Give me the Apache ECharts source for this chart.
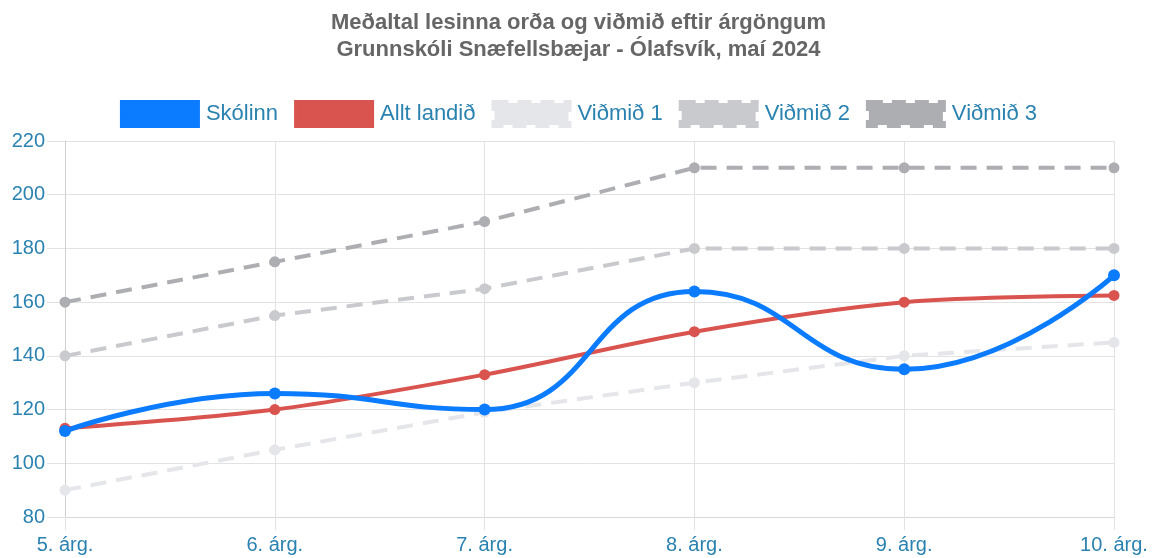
<!DOCTYPE html>
<html><head><meta charset="utf-8">
<script src="https://cdn.jsdelivr.net/npm/echarts@6/dist/echarts.min.js"></script>
<style>html,body{margin:0;padding:0;background:#fff}#c{width:1157px;height:558px}</style>
</head><body><div id="c"></div>
<script>
const categories = ["5. árg.", "6. árg.", "7. árg.", "8. árg.", "9. árg.", "10. árg."];
const skolinn = [112, 126, 120, 164, 135, 170];
const alltLandid = [113, 120, 133, 149, 160, 162.5];
const vidmid1 = [90, 105, 119, 130, 140, 145];
const vidmid2 = [140, 155, 165, 180, 180, 180];
const vidmid3 = [160, 175, 190, 210, 210, 210];
const yTicks = {min: 80, max: 220, interval: 20};

const font = "'Liberation Sans', Arial, sans-serif";
const labelColor = '#2a82b0';
const colors = {s: '#0b7bff', a: '#d9534f', v1: '#e5e6e9', v2: '#c9cacd', v3: '#adaeb2'};
function dashed(name, data, color) {
  return {name, type: 'line', data, symbol: 'circle', symbolSize: 11,
    itemStyle: {color},
    lineStyle: {color, width: 4, type: [16, 10]}, z: 1};
}
function legendItem(name, color, dash) {
  return {name, itemStyle: {color, borderColor: color, borderWidth: 6, borderType: dash ? [14, 9] : 'solid'}};
}
const chart = echarts.init(document.getElementById('c'), null, {renderer: 'canvas'});
chart.setOption({
  animation: false,
  title: {text: 'Meðaltal lesinna orða og viðmið eftir árgöngum\nGrunnskóli Snæfellsbæjar - Ólafsvík, maí 2024',
    left: 'center', top: 4,
    textStyle: {fontFamily: font, fontSize: 22, fontWeight: 'bold', color: '#666', lineHeight: 27}},
  legend: {top: 95, left: 'center', itemWidth: 74, itemHeight: 22, itemGap: 16, icon: 'rect',
    textStyle: {fontFamily: font, fontSize: 22, color: labelColor, padding: [0, 0, 0, 4]},
    data: [legendItem('Skólinn', colors.s, false), legendItem('Allt landið', colors.a, false),
      legendItem('Viðmið 1', colors.v1, true), legendItem('Viðmið 2', colors.v2, true),
      legendItem('Viðmið 3', colors.v3, true)]},
  grid: {left: 65, right: 43, top: 141, bottom: 41, containLabel: false},
  xAxis: {type: 'category', data: categories, boundaryGap: false,
    axisLine: {show: true, lineStyle: {color: '#d8d8d8', width: 1}},
    axisTick: {show: true, length: 13, lineStyle: {color: '#e2e2e2'}},
    axisLabel: {fontFamily: font, fontSize: 20, color: labelColor, margin: 18},
    splitLine: {show: true, lineStyle: {color: '#e2e2e2'}}},
  yAxis: {type: 'value', min: yTicks.min, max: yTicks.max, interval: yTicks.interval,
    axisLine: {show: true, lineStyle: {color: '#d0d0d0'}},
    axisTick: {show: true, length: 18, lineStyle: {color: '#e2e2e2'}},
    axisLabel: {fontFamily: font, fontSize: 20, color: labelColor, margin: 20},
    splitLine: {show: true, lineStyle: {color: '#e2e2e2'}}},
  series: [
    {name: 'Skólinn', type: 'line', data: skolinn, smooth: 0.5, symbol: 'circle', symbolSize: 12,
      itemStyle: {color: colors.s}, lineStyle: {color: colors.s, width: 5}, z: 4},
    {name: 'Allt landið', type: 'line', data: alltLandid, smooth: 0.3, symbol: 'circle', symbolSize: 11,
      itemStyle: {color: colors.a}, lineStyle: {color: colors.a, width: 4}, z: 3},
    dashed('Viðmið 1', vidmid1, colors.v1),
    dashed('Viðmið 2', vidmid2, colors.v2),
    dashed('Viðmið 3', vidmid3, colors.v3)
  ]
});
</script></body></html>
